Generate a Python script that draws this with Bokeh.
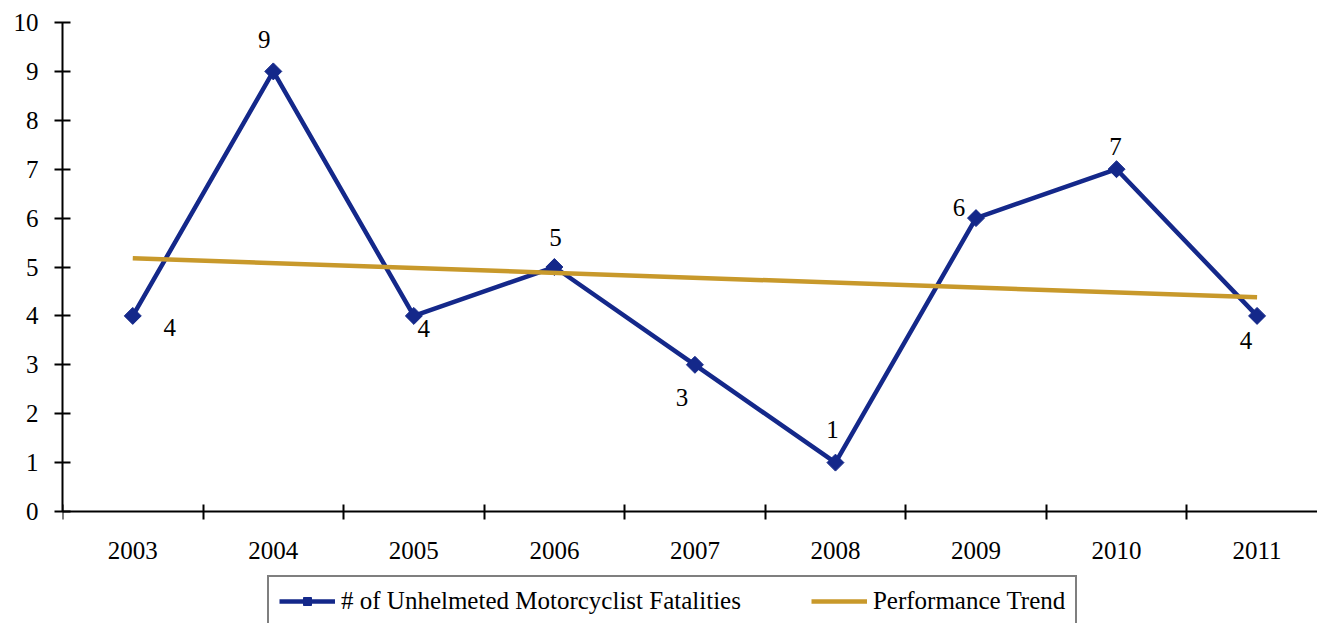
from bokeh.plotting import figure
from bokeh.models import (FixedTicker, Range1d, Legend, LegendItem, ColumnDataSource,
                          BasicTickFormatter)
from bokeh.core.properties import value
from bokeh.embed import file_html
from bokeh.resources import INLINE

# ---- data ----
years = [2003, 2004, 2005, 2006, 2007, 2008, 2009, 2010, 2011]
fatalities = [4, 9, 4, 5, 3, 1, 6, 7, 4]
trend_years = [2003, 2011]
trend_values = [5.18, 4.38]
y_ticks = [0, 1, 2, 3, 4, 5, 6, 7, 8, 9, 10]
category_edges = [2002.5, 2003.5, 2004.5, 2005.5, 2006.5, 2007.5, 2008.5, 2009.5, 2010.5, 2011.5]
series_name = "# of Unhelmeted Motorcyclist Fatalities"
trend_name = "Performance Trend"

# ---- styles ----
FONT = "Liberation Serif"
FS = "25px"
BLUE = "#14288A"
GOLD = "#C8992B"
label_dx = [37, -9, 10, 1, -13, -3, -17, -1, -11]
label_dy = [12, -32, 13, -30, 33, -33, -11, -23, 25]

p = figure(width=1317, height=623, output_backend="svg", toolbar_location=None,
           x_range=Range1d(2002.5, 2011.43), y_range=Range1d(-2.29, 10),
           min_border_left=62, min_border_right=0, min_border_top=22,
           min_border_bottom=0)
p.grid.visible = False
p.outline_line_color = None
p.background_fill_color = "white"
p.border_fill_color = "white"

# x axis: drawn at y=0; ticks at category edges (minor), labels at centers
xa = p.xaxis[0]
xa.fixed_location = 0
xa.ticker = FixedTicker(ticks=years, minor_ticks=category_edges)
xa.formatter = BasicTickFormatter(use_scientific=False)
xa.major_tick_in = 0
xa.major_tick_out = 0
xa.minor_tick_in = 7
xa.minor_tick_out = 8
xa.minor_tick_line_color = "black"
xa.minor_tick_line_width = 2
xa.axis_line_color = "black"
xa.axis_line_width = 2
xa.major_label_standoff = 22
xa.major_label_text_font = FONT
xa.major_label_text_font_size = FS
xa.major_label_text_color = "black"

ya = p.yaxis[0]
ya.bounds = (0, 10)
ya.ticker = FixedTicker(ticks=y_ticks, minor_ticks=[])
ya.major_tick_in = 8
ya.major_tick_out = 8
ya.major_tick_line_color = "black"
ya.major_tick_line_width = 2
ya.axis_line_color = "black"
ya.axis_line_width = 2
ya.major_label_standoff = 16
ya.major_label_text_font = FONT
ya.major_label_text_font_size = FS
ya.major_label_text_color = "black"

src = ColumnDataSource(dict(x=years, y=fatalities, lab=[str(v) for v in fatalities],
                            dx=label_dx, dy=label_dy))

r_line = p.line("x", "y", source=src, line_color=BLUE, line_width=4.5)
r_pts = p.scatter("x", "y", source=src, marker="square", size=12, angle=0.785398,
                  fill_color=BLUE, line_color=BLUE)
r_trend = p.line(trend_years, trend_values, line_color=GOLD, line_width=4.5)

p.text("x", "y", text="lab", source=src, x_offset="dx", y_offset="dy",
       text_align="center", text_baseline="middle", text_font=value(FONT),
       text_font_size=FS, text_color="black")

legend = Legend(items=[LegendItem(label=series_name, renderers=[r_line, r_pts]),
                       LegendItem(label=trend_name, renderers=[r_trend])],
                location=(205, -4), orientation="horizontal")
legend.label_text_font = FONT
legend.label_text_font_size = FS
legend.label_text_color = "black"
legend.glyph_width = 56
legend.label_standoff = 6
legend.spacing = 70
legend.padding = 10
legend.border_line_color = "black"
legend.border_line_width = 2
legend.background_fill_alpha = 1
p.add_layout(legend)

open("out.html", "w").write(file_html(p, INLINE))
